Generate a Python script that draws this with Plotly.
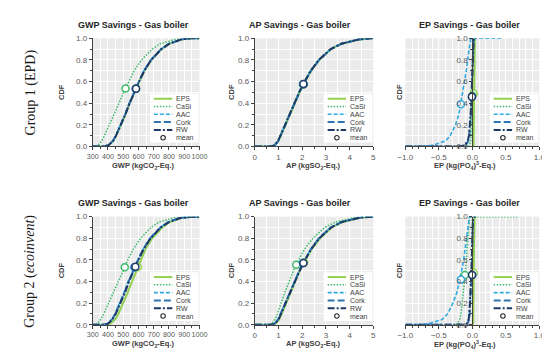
import plotly.graph_objects as go

W, H = 550, 353

series = ["EPS", "CaSi", "AAC", "Cork", "RW"]
colors = {"EPS": "#92D050", "CaSi": "#3DBB6C", "AAC": "#2FAAE0", "Cork": "#2E75B6", "RW": "#1F3864"}
dashes = {"EPS": "solid", "CaSi": "1.5px,1.5px", "AAC": "4px,2px", "Cork": "7px,3px", "RW": "7px,2px,2px,2px"}
widths = {"EPS": 2, "CaSi": 1.5, "AAC": 1.6, "Cork": 2, "RW": 2}

# cumulative probability levels shared by all curves
cdf_levels = [0, 0, 0.01, 0.05, 0.1, 0.2, 0.3, 0.4, 0.5, 0.6, 0.7, 0.8, 0.9, 0.95, 0.99, 1, 1]

# ---- Group 1 (EPD) ----
gwp1_eps = [300, 366, 403, 434, 454, 486, 516, 543, 573, 605, 639, 684, 751, 803, 883, 950, 1000]
gwp1_casi = [300, 320, 335, 358, 377, 410, 443, 472, 503, 535, 571, 620, 690, 742, 840, 920, 1000]
gwp1_aac = [300, 360, 400, 431, 451, 483, 513, 540, 570, 602, 636, 681, 748, 800, 880, 950, 1000]
gwp1_cork = [300, 362, 401, 432, 452, 484, 514, 541, 571, 603, 637, 682, 749, 801, 881, 950, 1000]
gwp1_rw = [300, 365, 402, 433, 453, 485, 515, 542, 572, 604, 638, 683, 750, 802, 882, 950, 1000]
gwp1_mean_x = [585, 515, 582, 583, 584]
gwp1_mean_y = [0.535, 0.537, 0.534, 0.534, 0.534]

ap1_eps = [0, 0.67, 0.84, 1.0, 1.1, 1.29, 1.48, 1.68, 1.89, 2.12, 2.38, 2.72, 3.22, 3.67, 4.42, 4.9, 5.0]
ap1_casi = [0, 0.63, 0.8, 0.96, 1.06, 1.25, 1.44, 1.64, 1.85, 2.08, 2.34, 2.68, 3.18, 3.63, 4.38, 4.9, 5.0]
ap1_aac = [0, 0.65, 0.82, 0.98, 1.08, 1.27, 1.46, 1.66, 1.87, 2.1, 2.36, 2.7, 3.2, 3.65, 4.4, 4.9, 5.0]
ap1_cork = [0, 0.66, 0.83, 0.99, 1.09, 1.28, 1.47, 1.67, 1.88, 2.11, 2.37, 2.71, 3.21, 3.66, 4.41, 4.9, 5.0]
ap1_rw = [0, 0.65, 0.82, 0.98, 1.08, 1.27, 1.46, 1.66, 1.87, 2.1, 2.36, 2.7, 3.2, 3.65, 4.4, 4.9, 5.0]
ap1_mean_x = [2.07, 2.03, 2.05, 2.06, 2.05]
ap1_mean_y = [0.575, 0.575, 0.578, 0.576, 0.578]

ep1_eps = [0.0, 0.015, 0.018, 0.02, 0.021, 0.023, 0.024, 0.025, 0.026, 0.027, 0.028, 0.03, 0.032, 0.034, 0.038, 0.045, 0.06]
ep1_casi = [-1.0, -0.06, -0.04, -0.025, -0.02, -0.012, -0.008, -0.005, -0.002, 0.0, 0.003, 0.006, 0.01, 0.015, 0.025, 0.035, 0.06]
ep1_aac = [-1.0, -0.75, -0.6, -0.4, -0.33, -0.25, -0.2, -0.17, -0.14, -0.11, -0.09, -0.07, -0.05, -0.04, -0.025, -0.01, 0.45]
ep1_cork = [-1.0, -0.15, -0.1, -0.06, -0.045, -0.03, -0.022, -0.015, -0.01, -0.006, -0.003, 0.0, 0.004, 0.007, 0.012, 0.02, 0.05]
ep1_rw = [-1.0, -0.2, -0.12, -0.07, -0.05, -0.035, -0.025, -0.017, -0.011, -0.007, -0.004, -0.001, 0.003, 0.006, 0.011, 0.02, 0.05]
ep1_mean_x = [0.02, 0.0, -0.17, -0.004, -0.006]
ep1_mean_y = [0.49, 0.47, 0.39, 0.46, 0.46]

# ---- Group 2 (ecoinvent) ----
gwp2_eps = [300, 380, 415, 448, 468, 500, 530, 558, 586, 614, 646, 690, 755, 805, 885, 950, 1000]
gwp2_casi = [300, 315, 330, 352, 372, 405, 438, 468, 500, 530, 566, 614, 682, 735, 835, 920, 1000]
gwp2_aac = [300, 355, 395, 425, 445, 476, 506, 532, 562, 595, 630, 675, 742, 795, 875, 950, 1000]
gwp2_cork = [300, 358, 398, 428, 448, 479, 509, 535, 565, 598, 632, 677, 744, 797, 877, 950, 1000]
gwp2_rw = [300, 362, 400, 430, 450, 482, 512, 538, 568, 600, 634, 679, 746, 799, 879, 950, 1000]
gwp2_mean_x = [596, 510, 573, 576, 580]
gwp2_mean_y = [0.535, 0.533, 0.533, 0.533, 0.536]

ap2_eps = [0, 0.7, 0.88, 1.03, 1.13, 1.32, 1.5, 1.7, 1.9, 2.13, 2.4, 2.75, 3.25, 3.7, 4.45, 4.9, 5.0]
ap2_casi = [0, 0.55, 0.7, 0.85, 0.95, 1.1, 1.27, 1.45, 1.63, 1.85, 2.1, 2.45, 2.95, 3.4, 4.2, 4.8, 5.0]
ap2_aac = [0, 0.65, 0.83, 0.98, 1.08, 1.27, 1.46, 1.66, 1.87, 2.1, 2.36, 2.7, 3.2, 3.65, 4.4, 4.9, 5.0]
ap2_cork = [0, 0.66, 0.84, 0.99, 1.09, 1.28, 1.47, 1.67, 1.88, 2.11, 2.37, 2.71, 3.21, 3.66, 4.41, 4.9, 5.0]
ap2_rw = [0, 0.67, 0.85, 1.0, 1.1, 1.29, 1.48, 1.68, 1.89, 2.12, 2.38, 2.72, 3.22, 3.67, 4.42, 4.9, 5.0]
ap2_mean_x = [2.08, 1.75, 2.03, 2.04, 2.05]
ap2_mean_y = [0.575, 0.555, 0.572, 0.572, 0.572]

ep2_eps = [0.0, 0.01, 0.013, 0.015, 0.016, 0.017, 0.018, 0.019, 0.02, 0.021, 0.022, 0.024, 0.026, 0.028, 0.032, 0.04, 0.06]
ep2_casi = [-1.0, -0.25, -0.22, -0.19, -0.17, -0.15, -0.13, -0.115, -0.1, -0.09, -0.08, -0.07, -0.06, -0.055, -0.045, -0.04, 0.7]
ep2_aac = [-1.0, -0.8, -0.65, -0.45, -0.37, -0.29, -0.23, -0.19, -0.16, -0.13, -0.11, -0.09, -0.07, -0.06, -0.045, -0.03, 0.05]
ep2_cork = [-1.0, -0.1, -0.07, -0.05, -0.04, -0.03, -0.022, -0.016, -0.01, -0.006, -0.003, 0.0, 0.003, 0.006, 0.01, 0.02, 0.05]
ep2_rw = [-1.0, -0.12, -0.08, -0.055, -0.045, -0.035, -0.027, -0.02, -0.013, -0.008, -0.004, -0.001, 0.002, 0.005, 0.009, 0.02, 0.05]
ep2_mean_x = [0.02, -0.11, -0.17, 0.0, -0.004]
ep2_mean_y = [0.48, 0.46, 0.42, 0.46, 0.46]

titles = ["GWP Savings - Gas boiler", "AP Savings - Gas boiler", "EP Savings - Gas boiler"] * 2
xtitles = ["GWP (kgCO<sub>2</sub>-Eq.)", "AP (kgSO<sub>2</sub>-Eq.)", "EP (kg(PO<sub>4</sub>)<sup>3</sup>-Eq.)"] * 2
row_labels = ["Group 1 (EPD)", "Group 2 (<i>ecoinvent</i>)"]
legend_labels = ["EPS", "CaSi", "AAC", "Cork", "RW", "mean"]

panels = [
    ([gwp1_eps, gwp1_casi, gwp1_aac, gwp1_cork, gwp1_rw], gwp1_mean_x, gwp1_mean_y),
    ([ap1_eps, ap1_casi, ap1_aac, ap1_cork, ap1_rw], ap1_mean_x, ap1_mean_y),
    ([ep1_eps, ep1_casi, ep1_aac, ep1_cork, ep1_rw], ep1_mean_x, ep1_mean_y),
    ([gwp2_eps, gwp2_casi, gwp2_aac, gwp2_cork, gwp2_rw], gwp2_mean_x, gwp2_mean_y),
    ([ap2_eps, ap2_casi, ap2_aac, ap2_cork, ap2_rw], ap2_mean_x, ap2_mean_y),
    ([ep2_eps, ep2_casi, ep2_aac, ep2_cork, ep2_rw], ep2_mean_x, ep2_mean_y),
]

# layout geometry (pixels)
boxes = [(79, 189, 27, 138), (246, 368, 27, 138), (401, 539, 27, 138),
         (79, 189, 210, 321), (246, 368, 210, 321), (401, 539, 210, 321)]
xranges = [[300, 1000], [0, 5], [-1, 1]] * 2
xdticks = [100, 1, 0.5] * 2
xminor = [50, 0.5, 0.1] * 2
xfmt = ["d", "d", ".1f"] * 2
xtickfs = [7.2, 8, 8] * 2
title_cx = [121, 293, 467] * 2
xtitle_cx = [131, 306, 462] * 2
cdf_x = [47, 222, 395] * 2


def px(x):
    return x / W


def py(y):
    return 1 - y / H


FONT = "Liberation Sans, Arial, sans-serif"
fig = go.Figure()

for i, (curves, mx, my) in enumerate(panels):
    xa = "x" if i == 0 else f"x{i+1}"
    ya = "y" if i == 0 else f"y{i+1}"
    for s, xs in zip(series, curves):
        fig.add_trace(go.Scatter(x=xs, y=cdf_levels, mode="lines", xaxis=xa, yaxis=ya,
                                 line=dict(color=colors[s], dash=dashes[s], width=widths[s]),
                                 showlegend=False, hoverinfo="skip"))
    for j, s in enumerate(series):
        fig.add_trace(go.Scatter(x=[mx[j]], y=[my[j]], mode="markers", xaxis=xa, yaxis=ya,
                                 marker=dict(symbol="circle", size=7, color="white",
                                             line=dict(color=colors[s], width=1.5)),
                                 showlegend=False, hoverinfo="skip"))

layout = dict(width=W, height=H, margin=dict(l=0, r=0, t=0, b=0),
              paper_bgcolor="white", plot_bgcolor="#EBEBEB", showlegend=False,
              font=dict(family=FONT, size=8, color="#595959"))
shapes = []
annotations = []

for i, (x0, x1, y0, y1) in enumerate(boxes):
    k = "" if i == 0 else str(i + 1)
    is_ep = (i % 3 == 2)
    layout["xaxis" + k] = dict(
        domain=[px(x0), px(x1)], anchor="y" + k, range=xranges[i], dtick=xdticks[i],
        tick0=xranges[i][0], tickformat=xfmt[i], tickangle=0,
        showgrid=True, gridcolor="white", gridwidth=1,
        zeroline=False, showline=True, linecolor="#404040", linewidth=1,
        ticks="outside", ticklen=3, tickcolor="#404040",
        tickfont=dict(size=xtickfs[i], color="#595959"),
        minor=dict(dtick=xminor[i], showgrid=True, gridcolor="white", gridwidth=0.6,
                   ticks="outside", ticklen=2, tickcolor="#404040"),
    )
    ycfg = dict(
        domain=[py(y1), py(y0)], range=[0, 1.0], dtick=0.2, tickformat=".1f",
        showgrid=True, gridcolor="white", gridwidth=1, zeroline=False,
        showline=True, linecolor="#404040", linewidth=1,
        ticks="outside", ticklen=3, tickcolor="#404040", tickfont=dict(size=8, color="#595959"),
        minor=dict(dtick=0.1, showgrid=True, gridcolor="white", gridwidth=0.6,
                   ticks="outside", ticklen=2, tickcolor="#404040"),
    )
    if is_ep:
        ycfg["anchor"] = "free"
        ycfg["position"] = px((x0 + x1) / 2)
    else:
        ycfg["anchor"] = "x" + k
    layout["yaxis" + k] = ycfg

    # panel title
    annotations.append(dict(text="<b>%s</b>" % titles[i], x=px(title_cx[i]), y=py(y0 - 14),
                            xref="paper", yref="paper", showarrow=False,
                            font=dict(size=9, color="#262626", family=FONT), xanchor="center", yanchor="middle"))
    # x axis title
    annotations.append(dict(text="<b>%s</b>" % xtitles[i], x=px(xtitle_cx[i]), y=py(y1 + 20),
                            xref="paper", yref="paper", showarrow=False,
                            font=dict(size=7.5, color="#404040", family=FONT), xanchor="center", yanchor="middle"))
    # y axis title
    annotations.append(dict(text="<b>CDF</b>", x=px(cdf_x[i]), y=py((y0 + y1) / 2),
                            xref="paper", yref="paper", showarrow=False, textangle=-90,
                            font=dict(size=7.5, color="#404040", family=FONT), xanchor="center", yanchor="middle"))

    # legend box
    right = x1 - 1
    ly = [y1 - 49 + 8 * j for j in range(6)]
    shapes.append(dict(type="rect", xref="paper", yref="paper", x0=px(right - 50), x1=px(right),
                       y0=py(ly[0] - 5), y1=py(ly[5] + 5), fillcolor="white", line=dict(width=0),
                       layer="above"))
    for j, lab in enumerate(legend_labels):
        if j < 5:
            s = series[j]
            shapes.append(dict(type="line", xref="paper", yref="paper",
                               x0=px(right - 46), x1=px(right - 27), y0=py(ly[j]), y1=py(ly[j]),
                               line=dict(color=colors[s], dash=dashes[s], width=widths[s]), layer="above"))
        else:
            cx = right - 36.5
            shapes.append(dict(type="circle", xref="paper", yref="paper",
                               x0=px(cx - 2.3), x1=px(cx + 2.3), y0=py(ly[j] + 2.3), y1=py(ly[j] - 2.3),
                               line=dict(color="#262626", width=1.1), fillcolor="white", layer="above"))
        annotations.append(dict(text=lab, x=px(right - 25), y=py(ly[j]), xref="paper", yref="paper",
                                showarrow=False, xanchor="left", yanchor="middle",
                                font=dict(size=7, color="#404040", family=FONT)))

for r, lab in enumerate(row_labels):
    annotations.append(dict(text=lab, x=px(15), y=py([83, 266][r]), xref="paper", yref="paper",
                            showarrow=False, textangle=-90, xanchor="center", yanchor="middle",
                            font=dict(size=14, color="#1a1a1a", family="Liberation Serif, Times New Roman, serif")))

layout["shapes"] = shapes
layout["annotations"] = annotations
fig.update_layout(**layout)
fig.write_html("out.html")
